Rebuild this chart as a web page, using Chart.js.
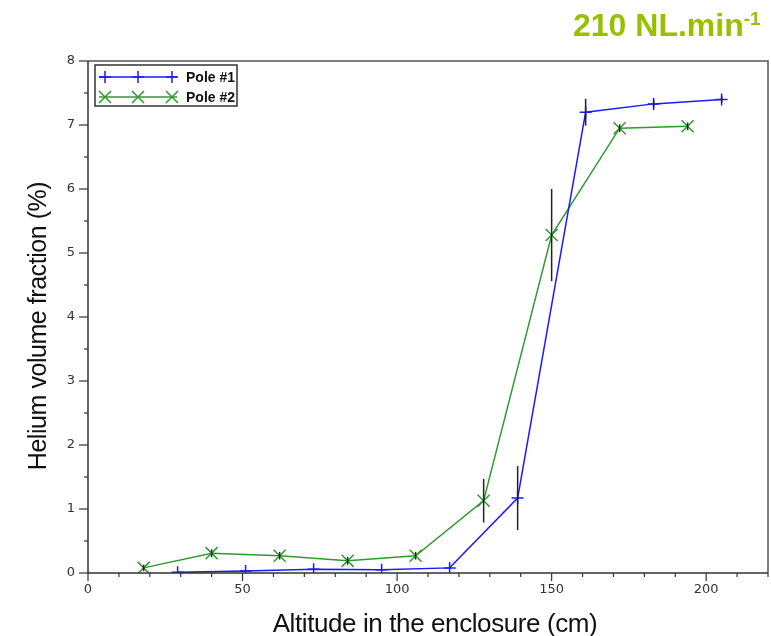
<!DOCTYPE html>
<html>
<head>
<meta charset="utf-8">
<script src="https://cdn.jsdelivr.net/npm/chart.js@4.4.1/dist/chart.umd.min.js"></script>
<style>
  html, body { margin: 0; padding: 0; background: #ffffff; }
  #wrap { position: relative; width: 771px; height: 636px; }
  #c { position: absolute; left: 0; top: 0; }
  #rate { position: absolute; left: 573px; top: 9px; font-family: "Liberation Sans", Arial, sans-serif;
          font-weight: bold; font-size: 32px; line-height: 32px; color: #99c000; white-space: nowrap; }
  #rate span { font-size: 19px; position: relative; top: -11px; }
</style>
</head>
<body>
<div id="wrap">
  <canvas id="c" width="771" height="636"></canvas>
  <div id="rate">210 NL.min<span>-1</span></div>
</div>
<script>
// ---- data ----
const seriesNames = ["Pole #1", "Pole #2"];
const pole1Altitude = [29, 51, 73, 95, 117, 139, 161, 183, 205];
const pole1Helium   = [0.01, 0.03, 0.06, 0.05, 0.08, 1.17, 7.20, 7.33, 7.40];
const pole1Error    = [0.0, 0.0, 0.0, 0.0, 0.0, 0.50, 0.21, 0.06, 0.05];
const pole2Altitude = [18, 40, 62, 84, 106, 128, 150, 172, 194];
const pole2Helium   = [0.08, 0.31, 0.27, 0.19, 0.27, 1.13, 5.28, 6.95, 6.98];
const pole2Error    = [0.05, 0.06, 0.06, 0.06, 0.06, 0.34, 0.72, 0.06, 0.06];
const xTitle = "Altitude in the enclosure (cm)";
const yTitle = "Helium volume fraction (%)";
const xMajorTicks = [0, 50, 100, 150, 200];
const yMajorTicks = [0, 1, 2, 3, 4, 5, 6, 7, 8];

const BLUE = "#1a1aff";
const GREEN = "#2f9a2f";

function pts(xs, ys) { return xs.map((x, i) => ({ x: x, y: ys[i] })); }

const decorPlugin = {
  id: "decor",
  afterDatasetsDraw(chart) {
    const ctx = chart.ctx;
    const xs = chart.scales.x, ys = chart.scales.y;
    const sets = [[pole1Altitude, pole1Helium, pole1Error], [pole2Altitude, pole2Helium, pole2Error]];
    ctx.save();
    ctx.strokeStyle = "#222";
    ctx.lineWidth = 1.5;
    sets.forEach(([ax, hv, er]) => {
      ax.forEach((a, i) => {
        if (er[i] <= 0) return;
        const px = xs.getPixelForValue(a);
        ctx.beginPath();
        ctx.moveTo(px, ys.getPixelForValue(hv[i] - er[i]));
        ctx.lineTo(px, ys.getPixelForValue(hv[i] + er[i]));
        ctx.stroke();
      });
    });
    ctx.restore();
  },
  afterDraw(chart) {
    const ctx = chart.ctx;
    const xs = chart.scales.x, ys = chart.scales.y;
    const a = chart.chartArea;
    ctx.save();
    // frame
    ctx.lineWidth = 1.5;
    ctx.strokeStyle = "#555";
    ctx.beginPath();
    ctx.moveTo(a.left, a.top); ctx.lineTo(a.right, a.top); ctx.lineTo(a.right, a.bottom);
    ctx.stroke();
    ctx.strokeStyle = "#333";
    ctx.beginPath();
    ctx.moveTo(a.left, a.top); ctx.lineTo(a.left, a.bottom); ctx.lineTo(a.right, a.bottom);
    ctx.stroke();
    // x ticks
    ctx.lineWidth = 1.2;
    for (let v = xs.min; v <= xs.max; v += 10) {
      const px = xs.getPixelForValue(v);
      const major = xMajorTicks.includes(v);
      ctx.beginPath();
      ctx.moveTo(px, a.bottom);
      ctx.lineTo(px, a.bottom + (major ? 8 : 4));
      ctx.stroke();
    }
    // y ticks
    for (let v = ys.min; v <= ys.max + 1e-9; v += 0.5) {
      const py = ys.getPixelForValue(v);
      const major = yMajorTicks.includes(v);
      ctx.beginPath();
      ctx.moveTo(a.left, py);
      ctx.lineTo(a.left - (major ? 9 : 4), py);
      ctx.stroke();
    }
    // legend
    const lx = 95, ly = 65, lw = 142, lh = 41;
    ctx.fillStyle = "#fff";
    ctx.fillRect(lx, ly, lw, lh);
    ctx.strokeStyle = "#333";
    ctx.lineWidth = 1.5;
    ctx.strokeRect(lx, ly, lw, lh);
    const rows = [
      { y: 77, color: BLUE, style: "cross", r: 6, label: seriesNames[0] },
      { y: 97, color: GREEN, style: "crossRot", r: 8.5, label: seriesNames[1] }
    ];
    rows.forEach(row => {
      ctx.strokeStyle = row.color;
      ctx.lineWidth = 1.5;
      ctx.beginPath();
      ctx.moveTo(99, row.y); ctx.lineTo(177, row.y);
      ctx.stroke();
      [105, 138, 172].forEach(mx => {
        Chart.helpers.drawPoint(ctx, { pointStyle: row.style, radius: row.r, borderWidth: 1.5 }, mx, row.y);
      });
      ctx.fillStyle = "#111";
      ctx.font = "bold 14px 'Liberation Sans', Arial, sans-serif";
      ctx.textBaseline = "middle";
      ctx.textAlign = "left";
      ctx.fillText(row.label, 186, row.y + 1);
    });
    // axis titles
    ctx.fillStyle = "#111";
    ctx.textBaseline = "alphabetic";
    ctx.textAlign = "center";
    ctx.font = "26px 'Liberation Sans', Arial, sans-serif";
    ctx.letterSpacing = "-0.4px";
    ctx.fillText(xTitle, 435, 632);
    ctx.translate(46, 326);
    ctx.rotate(-Math.PI / 2);
    ctx.font = "25px 'Liberation Sans', Arial, sans-serif";
    ctx.letterSpacing = "-0.45px";
    ctx.fillText(yTitle, 0, 0);
    ctx.restore();
  }
};

new Chart(document.getElementById("c"), {
  type: "scatter",
  data: {
    datasets: [
      {
        label: seriesNames[0],
        data: pts(pole1Altitude, pole1Helium),
        showLine: true,
        borderColor: BLUE,
        backgroundColor: BLUE,
        borderWidth: 1.5,
        pointStyle: "cross",
        pointRadius: 6,
        pointBorderWidth: 1.5,
        pointBorderColor: BLUE,
        tension: 0
      },
      {
        label: seriesNames[1],
        data: pts(pole2Altitude, pole2Helium),
        showLine: true,
        borderColor: GREEN,
        backgroundColor: GREEN,
        borderWidth: 1.5,
        pointStyle: "crossRot",
        pointRadius: 8.5,
        pointBorderWidth: 1.5,
        pointBorderColor: GREEN,
        tension: 0
      }
    ]
  },
  options: {
    responsive: false,
    animation: false,
    devicePixelRatio: 1,
    layout: { autoPadding: false, padding: { top: 61, right: 3, left: 0, bottom: 0 } },
    plugins: { legend: { display: false }, tooltip: { enabled: false } },
    scales: {
      x: {
        type: "linear",
        min: 0, max: 220,
        grid: { display: false, drawTicks: false },
        border: { display: false },
        ticks: {
          stepSize: 10, autoSkip: false, maxRotation: 0, padding: 9,
          color: "#333", font: { family: "'DejaVu Sans', sans-serif", size: 13 },
          callback: v => (xMajorTicks.includes(v) ? String(v) : "")
        },
        afterFit: s => { s.height = 63; s.paddingRight = 0; s.paddingLeft = 0; }
      },
      y: {
        type: "linear",
        min: 0, max: 8,
        grid: { display: false, drawTicks: false },
        border: { display: false },
        ticks: {
          stepSize: 0.5, autoSkip: false, padding: 13,
          color: "#333", font: { family: "'DejaVu Sans', sans-serif", size: 13 },
          callback: v => (yMajorTicks.includes(v) ? String(v) : "")
        },
        afterFit: s => { s.width = 88; s.paddingTop = 0; s.paddingBottom = 0; }
      }
    }
  },
  plugins: [decorPlugin]
});
</script>
</body>
</html>
